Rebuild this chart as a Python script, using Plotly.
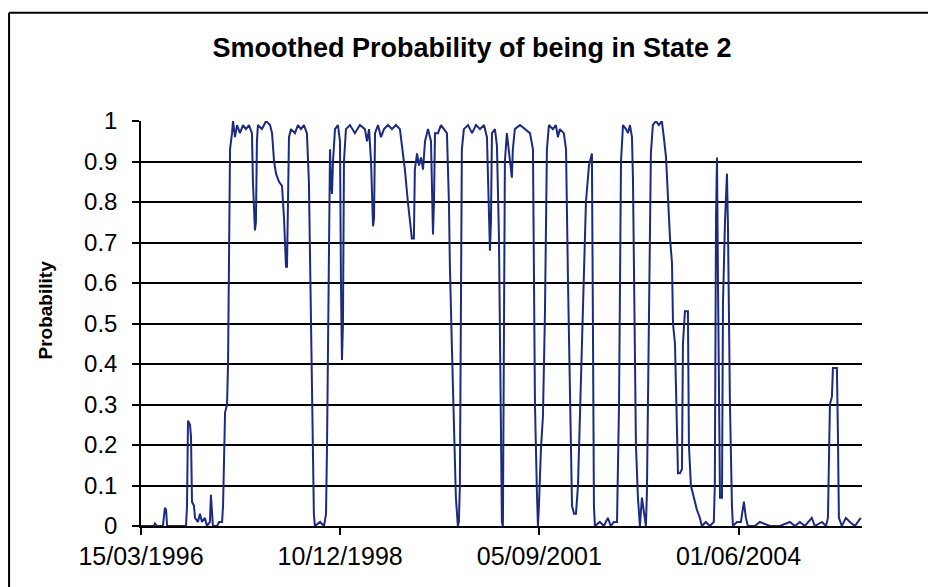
import pandas as pd
import plotly.graph_objects as go

# smoothed probability of regime 2
# day_offset = days after 15/03/1996, prob = P(state 2)
start_date = "1996-03-15"
day_offset = [
    0, 5, 65, 70, 80, 110, 115, 120, 126, 131, 226, 231, 236, 246, 251, 256, 266, 271,
    286, 296, 306, 321, 331, 346, 351, 356, 361, 382, 392, 407, 412, 422, 432, 437,
    442, 447, 457, 462, 472, 482, 497, 512, 527, 542, 557, 562, 572, 577, 582, 587,
    607, 628, 648, 658, 668, 678, 693, 708, 718, 728, 733, 738, 743, 753, 773, 788,
    803, 818, 833, 843, 848, 853, 858, 863, 868, 873, 899, 919, 929, 934, 939, 944,
    949, 954, 959, 964, 974, 989, 999, 1004, 1009, 1014, 1019, 1029, 1049, 1074, 1099,
    1124, 1135, 1145, 1155, 1165, 1170, 1175, 1190, 1205, 1220, 1240, 1260, 1280, 1300,
    1310, 1325, 1340, 1350, 1360, 1370, 1375, 1386, 1396, 1406, 1416, 1426, 1441, 1456,
    1461, 1466, 1471, 1476, 1491, 1506, 1521, 1536, 1546, 1551, 1561, 1571, 1581, 1591,
    1596, 1601, 1606, 1611, 1621, 1642, 1662, 1682, 1702, 1722, 1737, 1747, 1752, 1757,
    1762, 1777, 1787, 1797, 1802, 1807, 1812, 1817, 1822, 1827, 1837, 1847, 1857, 1862,
    1867, 1877, 1903, 1928, 1953, 1968, 1973, 1978, 1988, 1993, 1998, 2008, 2018, 2028,
    2038, 2048, 2068, 2083, 2093, 2103, 2123, 2134, 2144, 2154, 2164, 2174, 2184, 2194,
    2209, 2224, 2234, 2249, 2259, 2264, 2269, 2274, 2279, 2304, 2324, 2344, 2359, 2374,
    2390, 2400, 2410, 2420, 2435, 2445, 2455, 2465, 2470, 2480, 2485, 2495, 2505, 2515,
    2525, 2535, 2540, 2550, 2560, 2570, 2585, 2600, 2615, 2625, 2636, 2646, 2656, 2666,
    2671, 2681, 2686, 2691, 2696, 2706, 2716, 2721, 2731, 2746, 2751, 2761, 2771, 2791,
    2806, 2816, 2836, 2856, 2876, 2881, 2887, 2892, 2897, 2902, 2907, 2917, 2922, 2932,
    2942, 2947, 2957, 2967, 2972, 2992, 3012, 3027, 3037, 3047, 3082, 3107, 3158, 3208,
    3258, 3283, 3308, 3333, 3368, 3383, 3419, 3439, 3449, 3459, 3469, 3474, 3494, 3499,
    3504, 3519, 3539, 3559, 3584, 3599, 3614,
]
prob = [
    0.0, 0.0, 0.0, 0.006, 0.0, 0.0, 0.03, 0.045, 0.04, 0.0, 0.0, 0.05, 0.26, 0.25, 0.22, 0.06, 0.05, 0.02,
    0.01, 0.03, 0.01, 0.02, 0.0, 0.01, 0.077, 0.02, 0.0, 0.0, 0.01, 0.01, 0.05, 0.28, 0.3, 0.4,
    0.72, 0.93, 0.97, 1.0, 0.96, 0.99, 0.97, 0.99, 0.98, 0.99, 0.97, 0.85, 0.73, 0.75, 0.95, 0.99,
    0.98, 1.0, 0.99, 0.97, 0.9, 0.87, 0.85, 0.84, 0.76, 0.64, 0.64, 0.8, 0.96, 0.98, 0.97, 0.99,
    0.98, 0.99, 0.97, 0.85, 0.7, 0.45, 0.3, 0.15, 0.03, 0.0, 0.01, 0.0, 0.03, 0.2, 0.44, 0.75,
    0.93, 0.85, 0.82, 0.9, 0.98, 0.99, 0.95, 0.6, 0.41, 0.5, 0.9, 0.98, 0.99, 0.97, 0.99,
    0.98, 0.95, 0.98, 0.9, 0.74, 0.76, 0.97, 0.99, 0.96, 0.98, 0.99, 0.98, 0.99, 0.98,
    0.94, 0.88, 0.8, 0.75, 0.71, 0.71, 0.88, 0.92, 0.89, 0.91, 0.88, 0.95, 0.98, 0.95,
    0.8, 0.72, 0.8, 0.97, 0.97, 0.99, 0.98, 0.97, 0.8, 0.64, 0.44, 0.27, 0.07, 0.0,
    0.01, 0.1, 0.44, 0.93, 0.98, 0.99, 0.97, 0.99, 0.98, 0.99, 0.96, 0.8, 0.68, 0.75,
    0.97, 0.98, 0.94, 0.72, 0.48, 0.2, 0.01, 0.0, 0.4, 0.9, 0.97, 0.92, 0.88, 0.86,
    0.93, 0.98, 0.99, 0.98, 0.97, 0.93, 0.6, 0.3, 0.08, 0.0, 0.05, 0.19, 0.27, 0.52,
    0.93, 0.99, 0.98, 0.99, 0.96, 0.98, 0.97, 0.93, 0.6, 0.27, 0.05, 0.03, 0.03, 0.1,
    0.35, 0.6, 0.8, 0.89, 0.91, 0.92, 0.5, 0.05, 0.0, 0.01, 0.0, 0.02, 0.0, 0.01,
    0.01, 0.3, 0.9, 0.99, 0.98, 0.97, 0.99, 0.96, 0.86, 0.5, 0.2, 0.07, 0.0, 0.07,
    0.04, 0.0, 0.08, 0.5, 0.92, 0.99, 1.0, 0.99, 1.0, 0.96, 0.91, 0.81, 0.71, 0.65,
    0.5, 0.45, 0.31, 0.2, 0.13, 0.13, 0.14, 0.45, 0.53, 0.53, 0.2, 0.1, 0.08, 0.04,
    0.02, 0.0, 0.01, 0.0, 0.01, 0.1, 0.76, 0.91, 0.6, 0.3, 0.07, 0.07, 0.55, 0.75,
    0.87, 0.74, 0.3, 0.05, 0.0, 0.01, 0.01, 0.06, 0.02, 0.0, 0.0, 0.01, 0.0, 0.0,
    0.01, 0.0, 0.01, 0.0, 0.02, 0.0, 0.01, 0.0, 0.02, 0.3, 0.32, 0.39, 0.39, 0.23,
    0.02, 0.0, 0.02, 0.01, 0.0, 0.01, 0.02,
]
y_ticks = [0, 0.1, 0.2, 0.3, 0.4, 0.5, 0.6, 0.7, 0.8, 0.9, 1]
x_span_days = 3620
tick_every_days = 1000

t0 = pd.Timestamp(start_date)
dates = t0 + pd.to_timedelta(day_offset, unit="D")
x_end = t0 + pd.Timedelta(days=x_span_days)

# page body has an 8px margin, so the figure is drawn from (8, 8)
W, H = 928, 579

fig = go.Figure()
fig.add_trace(go.Scatter(
    x=dates, y=prob, mode="lines", name="P(state 2)",
    line=dict(color="#1c2a80", width=2),
))

# chart-area frame (Excel style): only left and top edges are inside the page
frame = dict(color="black", width=2)
fig.add_shape(type="line", xref="paper", yref="paper",
              x0=-0.183, x1=-0.183, y0=-0.3, y1=1.267, line=frame)
fig.add_shape(type="line", xref="paper", yref="paper",
              x0=-0.183, x1=1.4, y0=1.267, y1=1.267, line=frame)

fig.add_annotation(
    text="<b>Probability</b>", textangle=-90, showarrow=False,
    xref="paper", yref="paper", x=-0.15, y=0.533,
    font=dict(size=19, color="black"),
)

fig.update_xaxes(
    type="date", range=[t0, x_end],
    tick0=start_date, dtick=tick_every_days * 86400000, tickformat="%d/%m/%Y",
    showgrid=False, showline=True, linecolor="black", linewidth=1.5,
    ticks="outside", ticklen=7, tickcolor="black", tickwidth=1.5,
    tickfont=dict(size=25, color="black"),
)
fig.update_yaxes(
    range=[0, 1], tickvals=y_ticks, ticktext=[f"{v:g}" for v in y_ticks],
    showgrid=True, gridcolor="black", gridwidth=2,
    showline=True, linecolor="black", linewidth=1.5, zeroline=False,
    ticks="outside", ticklen=7, tickcolor="black", tickwidth=1.5,
    ticklabelstandoff=10,
    tickfont=dict(size=24, color="black"),
)
fig.update_layout(
    title=dict(text="<b>Smoothed Probability of being in State 2</b>",
               x=0.5, xref="container", y=1 - 40 / H, yanchor="middle",
               font=dict(size=27, color="black")),
    width=W, height=H, showlegend=False,
    plot_bgcolor="white", paper_bgcolor="white",
    margin=dict(l=133, r=74, t=113, b=61),
    font=dict(family="Liberation Sans, Arial, sans-serif", color="black"),
)

fig.write_html("out.html")
